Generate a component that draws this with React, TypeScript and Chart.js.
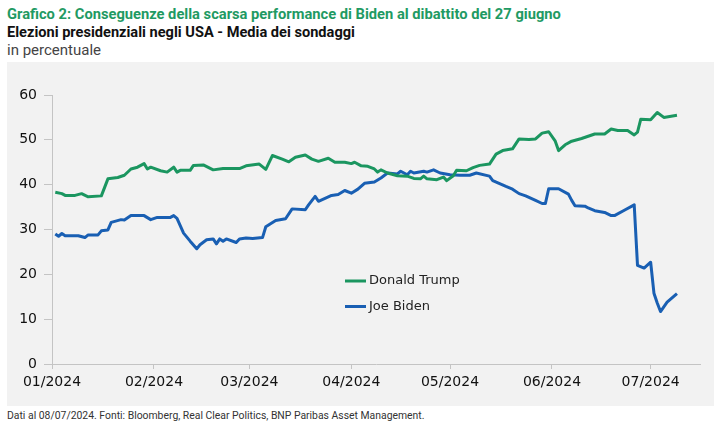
import { useRef, useEffect } from "react"
import { Chart, type ChartConfiguration, registerables } from "chart.js"

Chart.register(...registerables)

// days counted from 01/01/2024
const trumpDays = [
  1, 3, 4, 7, 9, 11, 15, 17, 20, 22, 24, 26, 28, 29, 30, 33, 35, 37, 38, 39,
  42, 43, 46, 49, 52, 57, 59, 63, 65, 67, 70, 72, 74, 77, 79, 81, 84, 86, 89,
  91, 92, 94, 96, 98, 99, 100, 102, 105, 108, 110, 112, 113, 114, 117, 119,
  120, 122, 123, 126, 128, 130, 133, 135, 137, 140, 142, 145, 147, 149, 151,
  153, 154, 156, 158, 161, 163, 165, 168, 170, 172, 175, 177, 178, 179, 182,
  184, 186, 190,
]
const trumpPoll = [
  38.3, 38.0, 37.6, 37.6, 38.0, 37.3, 37.5, 41.3, 41.6, 42.1, 43.5, 43.9, 44.7,
  43.5, 43.9, 43.1, 42.8, 43.9, 42.8, 43.2, 43.2, 44.3, 44.4, 43.3, 43.6, 43.6,
  44.2, 44.6, 43.4, 46.5, 45.7, 45.1, 46.1, 46.6, 45.7, 45.2, 45.9, 45.0, 45.0,
  44.7, 45.0, 44.2, 44.1, 43.5, 42.8, 43.3, 42.6, 42.0, 41.9, 41.4, 41.3, 41.9,
  41.3, 41.1, 41.7, 40.9, 42.0, 43.2, 43.1, 43.8, 44.3, 44.6, 46.8, 47.6, 48.0,
  50.2, 50.1, 50.2, 51.5, 51.8, 49.7, 47.6, 48.9, 49.7, 50.3, 50.8, 51.3, 51.3,
  52.4, 52.1, 52.1, 51.1, 51.7, 54.6, 54.5, 56.1, 55.0, 55.5,
]

const bidenDays = [
  1, 2, 3, 4, 8, 10, 11, 14, 15, 17, 18, 21, 22, 24, 28, 30, 32, 36, 37, 38,
  40, 42, 44, 45, 47, 49, 50, 51, 52, 53, 56, 57, 59, 61, 64, 65, 68, 71, 73,
  77, 78, 80, 81, 85, 87, 89, 91, 93, 95, 98, 100, 102, 105, 106, 108, 109,
  110, 113, 114, 116, 118, 121, 124, 127, 129, 133, 134, 138, 140, 142, 144,
  147, 149, 150, 151, 154, 157, 158, 159, 162, 163, 165, 168, 170, 171, 174,
  177, 178, 180, 182, 183, 184, 185, 187, 190,
]
const bidenPoll = [
  29.0, 28.5, 29.1, 28.6, 28.6, 28.2, 28.8, 28.8, 29.7, 29.9, 31.6, 32.2, 32.1,
  33.1, 33.1, 32.2, 32.7, 32.7, 33.1, 32.5, 29.2, 27.4, 25.7, 26.6, 27.7, 27.9,
  26.8, 27.9, 27.4, 27.9, 27.1, 27.9, 28.1, 28.0, 28.2, 30.6, 32.0, 32.4, 34.6,
  34.4, 35.5, 37.4, 36.3, 37.6, 37.8, 38.7, 38.1, 39.0, 40.3, 40.6, 41.5, 42.6,
  42.4, 43.0, 42.2, 43.0, 42.6, 43.0, 42.8, 43.3, 42.6, 42.2, 42.1, 42.1, 42.6,
  41.9, 40.9, 39.6, 39.0, 38.0, 37.5, 36.5, 35.8, 35.8, 39.1, 39.1, 37.9, 36.5,
  35.3, 35.2, 34.8, 34.2, 33.8, 33.1, 33.1, 34.3, 35.5, 22.0, 21.4, 22.7, 15.8,
  13.6, 11.7, 13.8, 15.7,
]

const monthStarts = [0, 31, 60, 91, 121, 152, 182]
const monthLabels = ["01/2024", "02/2024", "03/2024", "04/2024", "05/2024", "06/2024", "07/2024"]

const TRUMP_COLOR = "#1b9660"
const BIDEN_COLOR = "#195fb3"
const AXIS_COLOR = "#c4c4c4"
const TEXT_FONT = "'DejaVu Sans', sans-serif"

// legend drawn inside the plot, under the lines
const insideLegend = {
  id: "insideLegend",
  afterDraw(chart: Chart) {
    const { ctx, chartArea } = chart
    const x0 = chartArea.left + 293
    const y0 = chartArea.top + 186
    ctx.save()
    ctx.font = `13px ${TEXT_FONT}`
    ctx.textBaseline = "middle"
    chart.data.datasets.forEach((ds, i) => {
      const y = y0 + i * 25.5
      ctx.strokeStyle = ds.borderColor as string
      ctx.lineWidth = 3
      ctx.beginPath()
      ctx.moveTo(x0, y)
      ctx.lineTo(x0 + 21, y)
      ctx.stroke()
      ctx.fillStyle = "#222"
      ctx.fillText(ds.label ?? "", x0 + 24, y)
    })
    ctx.restore()
  },
}

function PollChart() {
  const canvasRef = useRef<HTMLCanvasElement>(null)
  const chartRef = useRef<Chart | null>(null)

  useEffect(() => {
    if (!canvasRef.current) return
    if (chartRef.current) chartRef.current.destroy()

    const config: ChartConfiguration = {
      type: "line",
      data: {
        datasets: [
          {
            label: "Donald Trump",
            data: trumpDays.map((d, i) => ({ x: d, y: trumpPoll[i] })),
            borderColor: TRUMP_COLOR,
            borderWidth: 3,
            pointRadius: 0,
            tension: 0,
            borderJoinStyle: "round",
          },
          {
            label: "Joe Biden",
            data: bidenDays.map((d, i) => ({ x: d, y: bidenPoll[i] })),
            borderColor: BIDEN_COLOR,
            borderWidth: 3,
            pointRadius: 0,
            tension: 0,
            borderJoinStyle: "round",
          },
        ],
      },
      options: {
        animation: false,
        responsive: true,
        maintainAspectRatio: false,
        layout: { padding: { top: 33, right: 14, left: 0, bottom: 0 } },
        plugins: {
          legend: { display: false },
          tooltip: { enabled: false },
        },
        scales: {
          x: {
            type: "linear",
            min: 0,
            max: 197,
            afterBuildTicks: (scale) => {
              scale.ticks = monthStarts.map((v) => ({ value: v }))
            },
            afterFit: (scale) => {
              scale.height = 42
            },
            grid: {
              drawOnChartArea: false,
              drawTicks: true,
              tickLength: 5,
              color: AXIS_COLOR,
            },
            border: { color: AXIS_COLOR },
            ticks: {
              autoSkip: false,
              maxRotation: 0,
              padding: 5,
              color: "#111",
              font: { family: TEXT_FONT, size: 14 },
              callback: (_v, i) => monthLabels[i],
            },
          },
          y: {
            min: 0,
            max: 60,
            afterFit: (scale) => {
              scale.width = 45
            },
            grid: {
              drawOnChartArea: false,
              drawTicks: true,
              tickLength: 8,
              color: AXIS_COLOR,
            },
            border: { color: AXIS_COLOR },
            ticks: {
              stepSize: 10,
              padding: 7,
              color: "#111",
              font: { family: TEXT_FONT, size: 14 },
            },
          },
        },
      },
      plugins: [insideLegend],
    }

    chartRef.current = new Chart(canvasRef.current, config)

    return () => {
      if (chartRef.current) {
        chartRef.current.destroy()
        chartRef.current = null
      }
    }
  }, [])

  return (
    <div
      style={{
        position: "absolute",
        left: 7,
        top: 62,
        width: 707,
        height: 344,
        background: "#f2f2f2",
      }}
    >
      <canvas ref={canvasRef} />
    </div>
  )
}

export default function App() {
  const head = "'Roboto', sans-serif"
  return (
    <div
      style={{
        position: "absolute",
        left: 0,
        top: 0,
        width: 725,
        height: 432,
        background: "#fff",
        overflow: "hidden",
      }}
    >
      <div style={{ position: "absolute", left: 7, top: 5, font: `bold 14.7px ${head}`, color: "#1f9a63", whiteSpace: "nowrap" }}>
        Grafico 2: Conseguenze della scarsa performance di Biden al dibattito del 27 giugno
      </div>
      <div style={{ position: "absolute", left: 7, top: 23, font: `bold 14.6px ${head}`, color: "#111", whiteSpace: "nowrap" }}>
        Elezioni presidenziali negli USA - Media dei sondaggi
      </div>
      <div style={{ position: "absolute", left: 7, top: 41, font: `15px ${head}`, color: "#444", whiteSpace: "nowrap" }}>
        in percentuale
      </div>
      <PollChart />
      <div style={{ position: "absolute", left: 7, top: 409, font: `10.4px ${head}`, color: "#333", whiteSpace: "nowrap" }}>
        Dati al 08/07/2024. Fonti: Bloomberg, Real Clear Politics, BNP Paribas Asset Management.
      </div>
    </div>
  )
}
